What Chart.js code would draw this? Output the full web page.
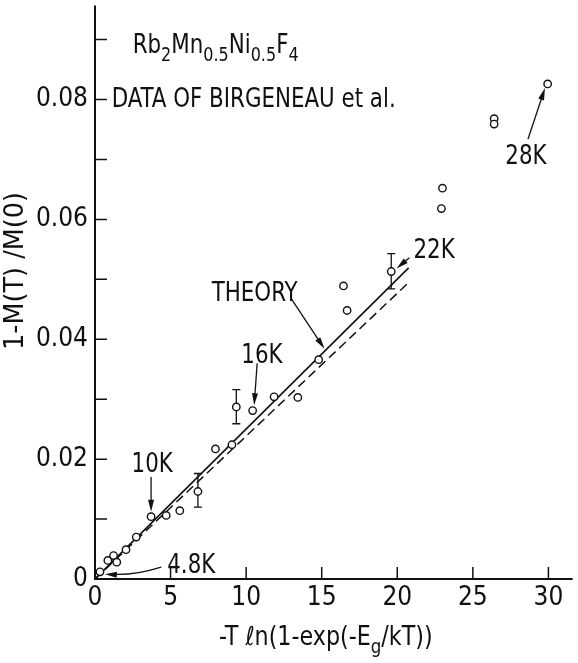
<!DOCTYPE html>
<html>
<head>
<meta charset="UTF-8">
<title>Rb2Mn0.5Ni0.5F4 - 1-M(T)/M(0)</title>
<script src="https://cdn.jsdelivr.net/npm/chart.js@4.4.0/dist/chart.umd.min.js"></script>
<style>
html, body { margin:0; padding:0; background:#fff; }
</style>
</head>
<body>
<canvas id="myChart" width="578" height="663"></canvas>
<script>
// measured points (data of Birgeneau et al.)
const dataX = [0.33, 0.85, 1.23, 1.44, 2.05, 2.73, 3.71, 4.71, 5.61, 6.81, 7.97, 9.06, 9.35, 10.43, 11.85, 13.42, 14.8, 16.44, 16.68, 19.6, 22.92, 22.99, 26.41, 26.41, 29.95];
const dataY = [0.0012, 0.0031, 0.0039, 0.0028, 0.0049, 0.0070, 0.0104, 0.0106, 0.0114, 0.0146, 0.0217, 0.0224, 0.0287, 0.0281, 0.0304, 0.0303, 0.0366, 0.0489, 0.0448, 0.0513, 0.0618, 0.0652, 0.0768, 0.0759, 0.0826];
// error bars
const errX = [6.81, 9.35, 19.6];
const errLow = [0.0120, 0.0259, 0.0484];
const errHigh = [0.0176, 0.0316, 0.0543];
// theory curves (solid and dashed)
const theoryX = [0, 20.75];
const theoryY = [0, 0.0519];
const theory2X = [0, 20.85];
const theory2Y = [0, 0.0497];
// tick labels
const xTicks = [0, 5, 10, 15, 20, 25, 30];
const yTicks = [0, 0.02, 0.04, 0.06, 0.08];
// temperature labels and arrows (data units)
const noteText = ['10K', '16K', '22K', '28K', '4.8K', 'THEORY'];
const noteX = [2.42, 9.68, 21.07, 27.15, 4.78, 7.72];
const noteY = [0.0178, 0.0361, 0.0536, 0.0692, 0.0010, 0.0464];
const arrowFrom = [[3.71, 0.0170], [10.73, 0.0360], [12.95, 0.0469], [20.8, 0.0536], [28.65, 0.0734]];
const arrowTo = [[3.71, 0.0112], [10.53, 0.0290], [15.18, 0.0384], [19.95, 0.0518], [29.77, 0.0819]];

const FONT = '"Liberation Sans Narrow", "DejaVu Sans Condensed", sans-serif';
const INK = '#111';

function textW(ctx, parts, size) {
	let w = 0;
	parts.forEach(function(p){
		ctx.font = (p[1] ? size*0.75 : size) + 'px ' + FONT;
		w += ctx.measureText(p[0]).width;
	});
	return w;
}
// parts: [text, isSub]
function drawRich(ctx, parts, x, y, size, sx, center) {
	ctx.save();
	ctx.fillStyle = INK;
	ctx.textBaseline = 'alphabetic';
	ctx.textAlign = 'left';
	ctx.translate(x, y);
	ctx.scale(sx, 1);
	let cx = center ? -textW(ctx, parts, size)/2 : 0;
	parts.forEach(function(p){
		ctx.font = (p[1] ? size*0.75 : size) + 'px ' + FONT;
		ctx.fillText(p[0], cx, p[1] ? size*0.3 : 0);
		cx += ctx.measureText(p[0]).width;
	});
	ctx.restore();
}
function arrowHead(ctx, x2, y2, a) {
	ctx.beginPath();
	ctx.moveTo(x2, y2);
	ctx.lineTo(x2 - 12*Math.cos(a) + 3*Math.sin(a), y2 - 12*Math.sin(a) - 3*Math.cos(a));
	ctx.lineTo(x2 - 12*Math.cos(a) - 3*Math.sin(a), y2 - 12*Math.sin(a) + 3*Math.cos(a));
	ctx.closePath();
	ctx.fill();
}

const errorBars = {
	id: 'errorBars',
	beforeDatasetsDraw: function(chart) {
		const ctx = chart.ctx, xs = chart.scales.x, ys = chart.scales.y;
		ctx.save();
		ctx.strokeStyle = INK;
		ctx.lineWidth = 1.3;
		for (let i = 0; i < errX.length; i++) {
			const x = xs.getPixelForValue(errX[i]);
			const y1 = ys.getPixelForValue(errLow[i]);
			const y2 = ys.getPixelForValue(errHigh[i]);
			ctx.beginPath();
			ctx.moveTo(x, y1); ctx.lineTo(x, y2);
			ctx.moveTo(x-4, y1); ctx.lineTo(x+4, y1);
			ctx.moveTo(x-4, y2); ctx.lineTo(x+4, y2);
			ctx.stroke();
		}
		ctx.restore();
	}
};

const decor = {
	id: 'decor',
	afterDraw: function(chart) {
		const ctx = chart.ctx, xs = chart.scales.x, ys = chart.scales.y, area = chart.chartArea;
		ctx.save();
		ctx.strokeStyle = INK;
		ctx.fillStyle = INK;
		// axes
		ctx.lineWidth = 2;
		ctx.beginPath();
		ctx.moveTo(area.left, area.top);
		ctx.lineTo(area.left, area.bottom);
		ctx.lineTo(area.right, area.bottom);
		ctx.stroke();
		// inner ticks
		ctx.lineWidth = 1.5;
		ctx.beginPath();
		ys.ticks.forEach(function(t){
			if (t.value <= 0) return;
			const y = ys.getPixelForValue(t.value);
			ctx.moveTo(area.left, y); ctx.lineTo(area.left + 12, y);
		});
		xs.ticks.forEach(function(t){
			if (t.value <= 0) return;
			const x = xs.getPixelForValue(t.value);
			ctx.moveTo(x, area.bottom); ctx.lineTo(x, area.bottom - 12);
		});
		ctx.stroke();

		// notes
		for (let i = 0; i < noteText.length; i++) {
			drawRich(ctx, [[noteText[i], false]], xs.getPixelForValue(noteX[i]), ys.getPixelForValue(noteY[i]), 27, 0.88, false);
		}
		ctx.lineWidth = 1.3;
		for (let i = 0; i < arrowFrom.length; i++) {
			const x1 = xs.getPixelForValue(arrowFrom[i][0]), y1 = ys.getPixelForValue(arrowFrom[i][1]);
			const x2 = xs.getPixelForValue(arrowTo[i][0]), y2 = ys.getPixelForValue(arrowTo[i][1]);
			const a = Math.atan2(y2 - y1, x2 - x1);
			ctx.beginPath();
			ctx.moveTo(x1, y1);
			ctx.lineTo(x2 - 8*Math.cos(a), y2 - 8*Math.sin(a));
			ctx.stroke();
			arrowHead(ctx, x2, y2, a);
		}
		// curved arrow for 4.8K
		const cx0 = xs.getPixelForValue(4.38), cy0 = ys.getPixelForValue(0.0020);
		const cx1 = xs.getPixelForValue(2.6), cy1 = ys.getPixelForValue(0.0006);
		const cx2 = xs.getPixelForValue(0.65), cy2 = ys.getPixelForValue(0.0008);
		ctx.beginPath();
		ctx.moveTo(cx0, cy0);
		ctx.quadraticCurveTo(cx1, cy1, cx2 + 8, cy2);
		ctx.stroke();
		arrowHead(ctx, cx2, cy2, Math.atan2(cy2 - cy1, cx2 - cx1));

		// compound name and source
		drawRich(ctx, [['Rb', false], ['2', true], ['Mn', false], ['0.5', true], ['Ni', false], ['0.5', true], ['F', false], ['4', true]],
			xs.getPixelForValue(2.49), ys.getPixelForValue(0.0877), 27, 0.88, false);
		drawRich(ctx, [['DATA OF BIRGENEAU ', false], ['et al.', false]],
			xs.getPixelForValue(1.11), ys.getPixelForValue(0.0787), 27, 0.88, false);

		// axis titles
		drawRich(ctx, [['-T \u2113n(1-exp(-E', false], ['g', true], ['/kT))', false]],
			(area.left + area.right)/2 - 8, 645, 26, 0.95, true);
		ctx.save();
		ctx.translate(area.left - 72, 271);
		ctx.rotate(-Math.PI/2);
		drawRich(ctx, [['1-M(T) /M(0)', false]], 0, 0, 27, 1.05, true);
		ctx.restore();
		ctx.restore();
	}
};

const ctx = document.getElementById('myChart').getContext('2d');
const chart = new Chart(ctx, {
	type: 'scatter',
	data: {
		datasets: [{
			label: 'data',
			data: dataX.map(function(x, i){ return {x: x, y: dataY[i]}; }),
			pointRadius: 3.7,
			pointBackgroundColor: '#fff',
			pointBorderColor: INK,
			pointBorderWidth: 1.4,
			order: 0
		}, {
			label: 'theory',
			type: 'line',
			data: theoryX.map(function(x, i){ return {x: x, y: theoryY[i]}; }),
			borderColor: INK,
			borderWidth: 1.6,
			pointRadius: 0,
			fill: false,
			order: 1
		}, {
			label: 'theory (dashed)',
			type: 'line',
			data: theory2X.map(function(x, i){ return {x: x, y: theory2Y[i]}; }),
			borderColor: INK,
			borderWidth: 1.5,
			borderDash: [9, 5],
			pointRadius: 0,
			fill: false,
			order: 2
		}]
	},
	options: {
		responsive: false,
		animation: false,
		layout: { padding: { top: 4, right: 0, left: 0, bottom: 0 } },
		plugins: { legend: { display: false }, tooltip: { enabled: false } },
		scales: {
			x: {
				type: 'linear', min: 0, max: 31.6,
				grid: { display: false, drawTicks: false },
				border: { display: false },
				ticks: {
					stepSize: 5, includeBounds: false, padding: 4, color: INK,
					maxRotation: 0, autoSkip: false,
					font: { family: FONT, size: 26 },
					callback: function(v){ return xTicks.indexOf(v) >= 0 ? String(v) : ''; }
				},
				afterFit: function(s){ s.height = 84; s.paddingLeft = 0; s.paddingRight = 0; }
			},
			y: {
				type: 'linear', min: 0, max: 0.0957,
				grid: { display: false, drawTicks: false },
				border: { display: false },
				ticks: {
					stepSize: 0.01, includeBounds: false, padding: 7, color: INK,
					autoSkip: false,
					font: { family: FONT, size: 26 },
					callback: function(v){
						for (let i = 0; i < yTicks.length; i++) {
							if (Math.abs(v - yTicks[i]) < 1e-6) return yTicks[i] === 0 ? '0' : yTicks[i].toFixed(2);
						}
						return '';
					}
				},
				afterFit: function(s){ s.width = 95; s.paddingTop = 0; s.paddingBottom = 0; }
			}
		}
	},
	plugins: [errorBars, decor]
});
</script>
</body>
</html>
